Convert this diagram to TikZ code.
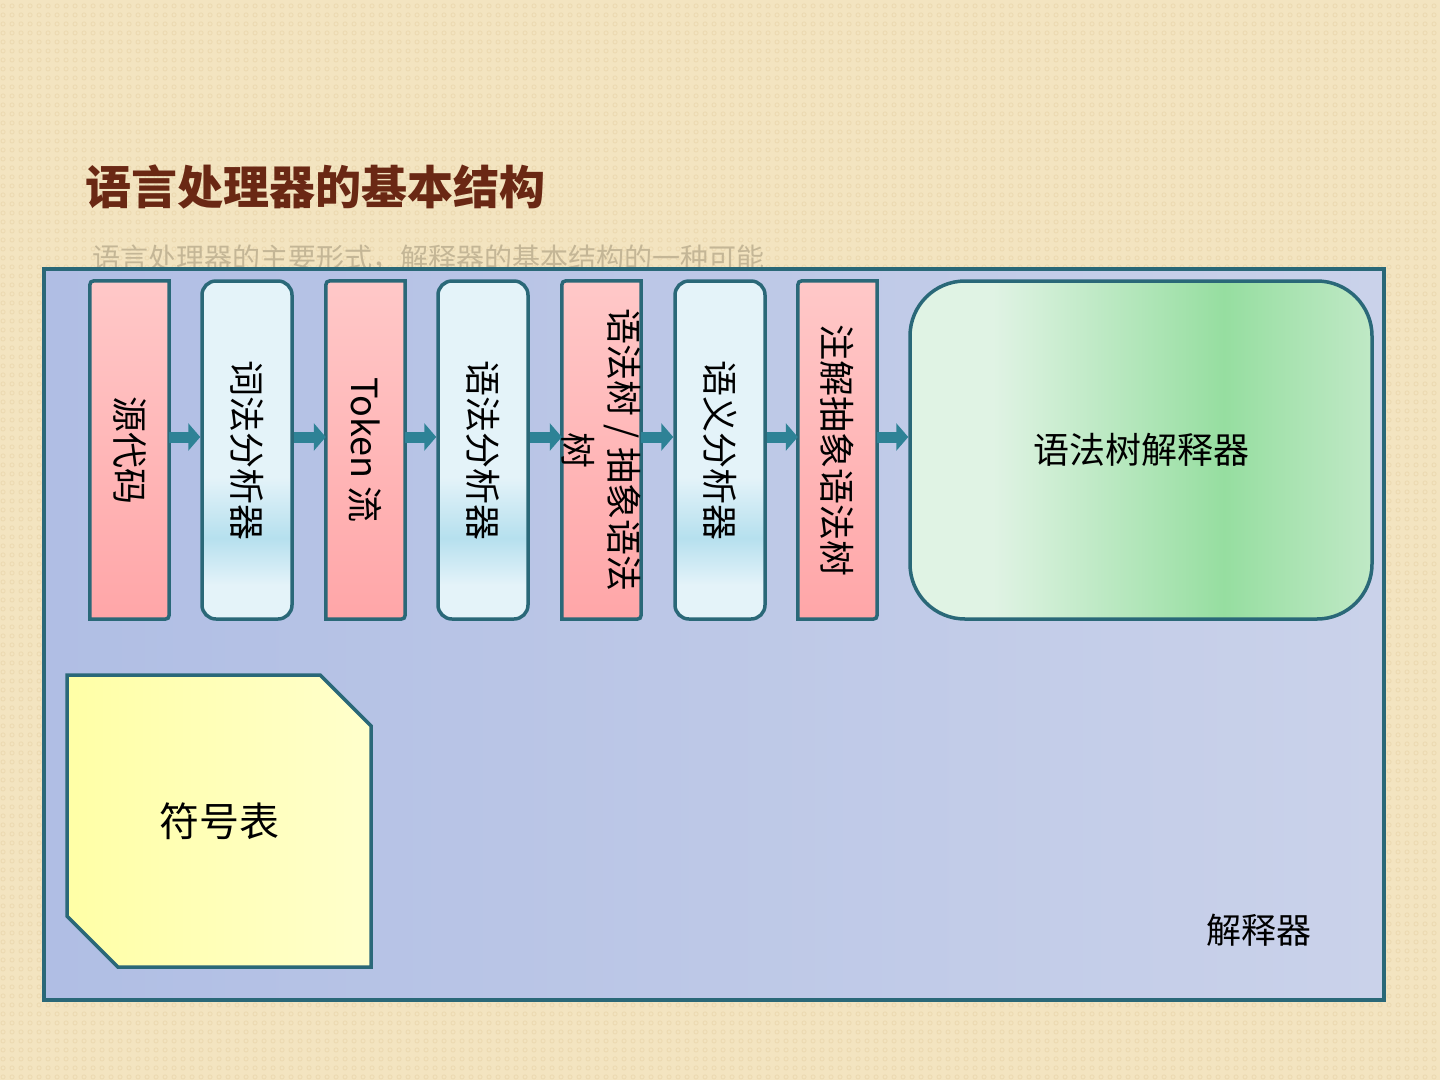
\documentclass[tikz,border=0pt]{standalone}
\usepackage{fontspec}
\setmainfont{Noto Sans CJK SC}
\usepackage{tikz}
\usetikzlibrary{arrows.meta,positioning,calc,shapes.misc,patterns.meta}

\definecolor{paper}{RGB}{243,228,192}
\definecolor{paperdot}{RGB}{236,218,178}
\definecolor{titlebrown}{RGB}{106,40,20}
\definecolor{subgray}{RGB}{196,182,150}
\definecolor{edge}{RGB}{42,104,120}
\definecolor{flowteal}{RGB}{46,130,150}
\definecolor{frameA}{RGB}{176,190,228}
\definecolor{frameB}{RGB}{202,210,234}
\definecolor{pinkA}{RGB}{255,200,200}
\definecolor{pinkB}{RGB}{255,166,168}
\definecolor{waveA}{RGB}{228,243,249}
\definecolor{waveB}{RGB}{182,224,238}
\definecolor{greenA}{RGB}{224,243,228}
\definecolor{greenB}{RGB}{150,222,160}
\definecolor{greenC}{RGB}{192,233,198}
\definecolor{symA}{RGB}{255,255,166}
\definecolor{symB}{RGB}{255,255,204}

\pgfdeclareverticalshading{wave}{100bp}{color(0bp)=(waveA); color(30bp)=(waveA); color(37bp)=(waveB); color(46bp)=(waveA); color(100bp)=(waveA)}
\pgfdeclarehorizontalshading{meadow}{100bp}{color(0bp)=(greenA); color(34bp)=(greenA); color(59bp)=(greenB); color(75bp)=(greenC); color(100bp)=(greenC)}

\tikzdeclarepattern{name=beigerings, type=uncolored,
  bottom left={(0pt,0pt)}, top right={(9pt,9pt)}, tile size={(9pt,9pt)},
  code={\draw[line width=1pt] (4.5pt,4.5pt) circle (2.3pt);}}

\begin{document}
\begin{tikzpicture}[x=1pt,y=-1pt,
  slot/.style={rectangle,inner sep=0pt,minimum width=79pt,minimum height=338pt},
  pinkfill/.style={draw=edge,line width=3.5pt,top color=pinkA,bottom color=pinkB},
  scanbox/.style={rectangle,draw=edge,line width=3.5pt,rounded corners=14pt,shade,shading=wave,
    inner sep=0pt,minimum width=90pt,minimum height=338pt},
  vlabel/.style={rotate=-90,align=center,inner sep=0pt,font=\fontsize{36}{46}\selectfont},
  flow/.style={-{Triangle[length=12pt,width=27pt]},line width=11pt,flowteal}]
  % page
  \fill[paper] (0,0) rectangle (1440,1080);
  \fill[pattern=beigerings,pattern color=paperdot] (0,0) rectangle (1440,1080);
  \node[anchor=west,inner sep=0pt,text=titlebrown,font=\fontsize{46}{50}\selectfont\bfseries] (title) at (85,187) {语言处理器的基本结构};
  \node[anchor=west,inner sep=0pt,text=subgray,font=\fontsize{28}{32}\selectfont] (subtitle) at (92,258) {语言处理器的主要形式，解释器的基本结构的一种可能};
  % interpreter frame
  \node[draw=edge,line width=3.5pt,left color=frameA,right color=frameB,minimum width=1340pt,minimum height=731pt] (interp) at (714,634.5) {};
  \node[font=\fontsize{35}{40}\selectfont] (interp-txt) at (1259,930) {解释器};
  % data boxes
  \foreach \n/\cx/\txt in {src/129.5/{源代码}, tok/365.5/{Token 流}, ast/601.5/{语法树 / 抽象语法\\树}, aast/837.5/{注解抽象语法树}} {
    \node[slot] (\n) at (\cx,450) {};
    \draw[pinkfill] (\n.north east) -- ($(\n.north west)+(9,0)$) .. controls (\n.north west) .. ($(\n.north west)+(0,9)$)
      -- (\n.south west) -- ($(\n.south east)+(-9,0)$) .. controls (\n.south east) .. ($(\n.south east)+(0,-9)$) -- cycle;
    \node[vlabel] (\n-txt) at (\n) {\txt};
  }
  % phases
  \foreach \n/\cx/\txt in {lex/247/{词法分析器}, parse/483/{语法分析器}, sema/720/{语义分析器}} {
    \node[scanbox] (\n) at (\cx,450) {};
    \node[vlabel] (\n-txt) at (\n) {\txt};
  }
  \node[draw=edge,line width=3.5pt,rounded corners=55pt,shade,shading=meadow,minimum width=462pt,minimum height=338pt,
    font=\fontsize{36}{40}\selectfont] (eval) at (1141,450) {语法树解释器};
  \foreach \a/\b in {src/lex, lex/tok, tok/parse, parse/ast, ast/sema, sema/aast, aast/eval}
    \draw[flow] ([yshift=13pt]\a.east) -- ([yshift=13pt]\b.west);
  % symbol table
  \node[chamfered rectangle,chamfered rectangle corners={north east,south west},
    chamfered rectangle xsep=29pt,chamfered rectangle ysep=29pt,draw=edge,line width=3.5pt,
    left color=symA,right color=symB,minimum width=304pt,minimum height=292pt,
    font=\fontsize{40}{44}\selectfont] (sym) at (219,821) {符号表};
\end{tikzpicture}
\end{document}
